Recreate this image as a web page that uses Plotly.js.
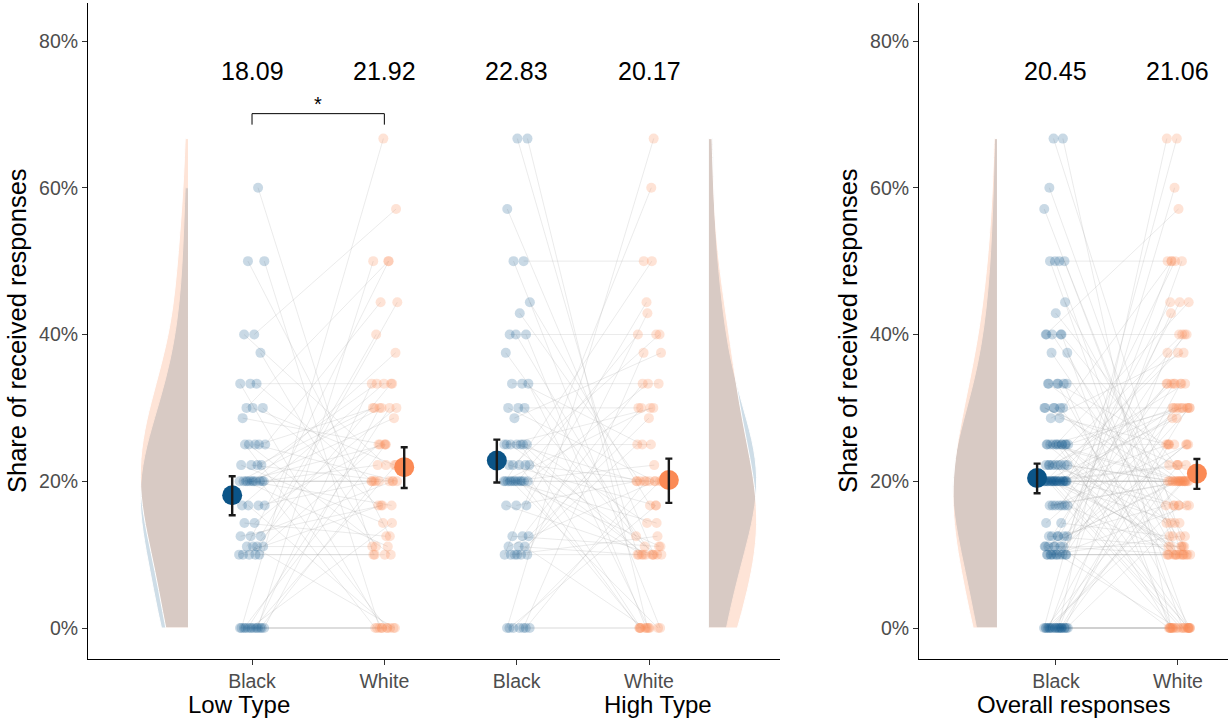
<!DOCTYPE html>
<html>
<head>
<meta charset="utf-8">
<script src="https://cdn.plot.ly/plotly-3.0.1.min.js"></script>
<style>
  html, body { margin: 0; padding: 0; background: #fff; }
  #chart { width: 1231px; height: 721px; }
</style>
</head>
<body>
<div id="chart"></div>
<script>
// Share of received responses (%) per participant, paired Black / White profiles
const groups = ['Black', 'White'];

const lowBlack = [60,50,50,40,40,37.5,33.3,33.3,33.3,30,30,30,28.6,25,25,25,25,25,22.2,22.2,22.2,22.2,20,20,20,20,20,20,20,20,20,20,20,16.7,16.7,16.7,16.7,14.3,14.3,12.5,12.5,12.5,11.1,11.1,11.1,11.1,10,10,10,10,10,0,0,0,0,0,0,0,0,0,0,0,0,0];
const lowWhite = [10,12.5,0,57.1,22.2,11.1,33.3,0,20,50,16.7,22.2,25,30,10,44.4,20,0,33.3,20,14.3,30,20,20,37.5,25,0,16.7,30,20,11.1,22.2,28.6,33.3,20,0,25,30,12.5,40,20,16.7,11.1,50,25,0,10,10,33.3,16.7,44.4,0,0,0,66.7,50,30,30,22.2,25,20,14.3,0,33.3];

const highBlack = [66.7,66.7,57.1,50,50,44.4,42.9,40,40,40,37.5,33.3,33.3,33.3,30,30,30,28.6,25,25,25,25,25,25,25,22.2,22.2,22.2,22.2,22.2,20,20,20,20,20,20,20,20,20,20,20,20,16.7,16.7,16.7,12.5,12.5,12.5,11.1,11.1,11.1,10,10,10,10,10,10,0,0,0,0,0,0,0];
const highWhite = [0,10,10,50,0,16.7,20,40,0,12.5,10,25,33.3,0,30,20,11.1,37.5,25,0,10,14.3,20,30,10,40,20,0,16.7,10,20,50,10,0,33.3,40,22.2,20,11.1,30,0,14.3,44.4,20,10,33.3,11.1,28.6,10,20,0,10,60,30,12.5,42.9,25,66.7,37.5,20,0,0,16.7,20];

// group means and 95% intervals (Black, White)
const lowMeans = [18.09, 21.92];
const lowCiLow = [15.37, 19.09];
const lowCiHigh = [20.68, 24.63];
const highMeans = [22.83, 20.17];
const highCiLow = [19.82, 17.05];
const highCiHigh = [25.67, 23.09];
const overallMeans = [20.45, 21.06];
const overallCiLow = [18.37, 18.96];
const overallCiHigh = [22.40, 23.04];

const yTicks = [0, 20, 40, 60, 80];
const yTickText = yTicks.map(v => v + '%');

const overallBlack = lowBlack.concat(highBlack);
const overallWhite = lowWhite.concat(highWhite);

const BLUE = '#0b5487';
const ORANGE = '#fb8a55';
const FONT = 'Liberation Sans, Arial, Helvetica, sans-serif';

// spread of the dots around each category position
function jitter(i, seed) {
  return (((i + 1) * 0.6180339887 + seed) % 1) * 0.2 - 0.1;
}

function pairedTraces(black, white, xb, xw, seedB, seedW, xa, ya) {
  const bx = black.map((v, i) => xb + jitter(i, seedB));
  const wx = white.map((v, i) => xw + jitter(i, seedW));
  const lx = [], ly = [];
  black.forEach((v, i) => {
    lx.push(bx[i], wx[i], null);
    ly.push(v, white[i], null);
  });
  const common = { xaxis: xa, yaxis: ya, hoverinfo: 'skip', showlegend: false, cliponaxis: false };
  return [
    Object.assign({ type: 'scatter', mode: 'lines', x: lx, y: ly, connectgaps: false,
      line: { color: 'rgba(165,165,165,0.22)', width: 1 } }, common),
    Object.assign({ type: 'scatter', mode: 'markers', x: bx, y: black,
      marker: { color: BLUE, opacity: 0.22, size: 10 } }, common),
    Object.assign({ type: 'scatter', mode: 'markers', x: wx, y: white,
      marker: { color: ORANGE, opacity: 0.24, size: 10 } }, common)
  ];
}

// one-sided density of a column, smoothed with a fixed kernel width
function halfViolin(vals, fill, x0, side, xa, ya, group) {
  return {
    type: 'violin', y: vals, x0: x0, name: group + fill, side: side, width: 0.72,
    bandwidth: 8, scalegroup: group, scalemode: 'count', spanmode: 'hard',
    fillcolor: fill, line: { color: '#ffffff', width: 1 },
    points: false, box: { visible: false }, meanline: { visible: false },
    xaxis: xa, yaxis: ya, hoverinfo: 'skip', showlegend: false
  };
}

function meanTraces(means, lo, hi, xs, xa, ya) {
  return [
    { type: 'scatter', mode: 'markers', x: xs, y: means, xaxis: xa, yaxis: ya,
      marker: { color: [BLUE, ORANGE], size: 20, opacity: 1 }, hoverinfo: 'skip', showlegend: false },
    { type: 'scatter', mode: 'markers', x: xs, y: means, xaxis: xa, yaxis: ya,
      marker: { size: 2, opacity: 0 }, hoverinfo: 'skip', showlegend: false,
      error_y: { type: 'data', symmetric: false,
        array: hi.map((h, i) => h - means[i]),
        arrayminus: lo.map((l, i) => means[i] - l),
        color: '#1a1a1a', thickness: 2.4, width: 3.5 } }
  ];
}

const BLUE_FILL = 'rgba(11,84,135,0.2)';
const ORANGE_FILL = 'rgba(252,141,89,0.24)';

const traces = [
  halfViolin(lowBlack, BLUE_FILL, 0.516, 'negative', 'x', 'y', 'low'),
  halfViolin(lowWhite, ORANGE_FILL, 0.516, 'negative', 'x', 'y', 'low'),
  halfViolin(highBlack, BLUE_FILL, 4.453, 'positive', 'x', 'y', 'high'),
  halfViolin(highWhite, ORANGE_FILL, 4.453, 'positive', 'x', 'y', 'high'),
  halfViolin(overallBlack, BLUE_FILL, 0.516, 'negative', 'x2', 'y2', 'all'),
  halfViolin(overallWhite, ORANGE_FILL, 0.516, 'negative', 'x2', 'y2', 'all')
]
  .concat(pairedTraces(lowBlack, lowWhite, 1, 2, 0.11, 0.47, 'x', 'y'))
  .concat(pairedTraces(highBlack, highWhite, 3, 4, 0.29, 0.83, 'x', 'y'))
  .concat(pairedTraces(overallBlack, overallWhite, 1, 2, 0.61, 0.05, 'x2', 'y2'))
  .concat(meanTraces(lowMeans, lowCiLow, lowCiHigh, [0.85, 2.15], 'x', 'y'))
  .concat(meanTraces(highMeans, highCiLow, highCiHigh, [2.85, 4.15], 'x', 'y'))
  .concat(meanTraces(overallMeans, overallCiLow, overallCiHigh, [0.845, 2.155], 'x2', 'y2'));

// mean values written above each column
const LABEL_Y = 75.9;
const annotations = [];
function meanLabels(means, xs, xa, ya) {
  means.forEach((m, i) => annotations.push({
    x: xs[i], y: LABEL_Y, xref: xa, yref: ya, text: m.toFixed(2), showarrow: false,
    font: { family: FONT, size: 25, color: '#000' }, xanchor: 'center', yanchor: 'middle'
  }));
}
meanLabels(lowMeans, [1, 2], 'x', 'y');
meanLabels(highMeans, [3, 4], 'x', 'y');
meanLabels(overallMeans, [1, 2], 'x2', 'y2');

// significance marker between the two low-type columns
annotations.push({ x: 1.5, y: 70.1, xref: 'x', yref: 'y', text: '*', showarrow: false,
  font: { family: FONT, size: 20, color: '#000' }, xanchor: 'center', yanchor: 'bottom', yshift: -3 });

const titleFont = { family: FONT, size: 24, color: '#000' };
const yTitleFont = { family: FONT, size: 25.5, color: '#000' };
[
  { x: 17 / 1231, text: 'Share of received responses' },
  { x: 848 / 1231, text: 'Share of received responses' }
].forEach(t => annotations.push({ xref: 'paper', yref: 'paper', x: t.x, y: 0.5, text: t.text,
  textangle: -90, showarrow: false, font: yTitleFont, xanchor: 'center', yanchor: 'middle' }));
[
  { x: 239 / 1231, text: 'Low Type' },
  { x: 658 / 1231, text: 'High Type' },
  { x: 1073.5 / 1231, text: 'Overall responses' }
].forEach(t => annotations.push({ xref: 'paper', yref: 'paper', x: t.x, y: -45 / 656, text: t.text,
  showarrow: false, font: titleFont, xanchor: 'center', yanchor: 'middle' }));

const axisStyle = {
  showline: true, linecolor: '#000', linewidth: 1, ticks: 'outside', ticklen: 5,
  tickcolor: '#333', tickwidth: 1, showgrid: false, zeroline: false, fixedrange: true,
  tickfont: { family: FONT, size: 19.5, color: '#4d4d4d' }
};

const yAxisStyle = Object.assign({}, axisStyle, {
  domain: [0, 1], range: [-4.225, 85.18], tickvals: yTicks, ticktext: yTickText, type: 'linear'
});

const layout = {
  width: 1231, height: 721,
  margin: { l: 0, r: 0, t: 3, b: 62 },
  paper_bgcolor: '#fff', plot_bgcolor: '#fff',
  showlegend: false, violinmode: 'overlay',
  font: { family: FONT },
  xaxis: Object.assign({}, axisStyle, { domain: [88 / 1231, 780 / 1231], range: [-0.2396, 4.99],
    tickvals: [1, 2, 3, 4], ticktext: groups.concat(groups), anchor: 'y', type: 'linear' }),
  yaxis: Object.assign({}, yAxisStyle, { anchor: 'x' }),
  xaxis2: Object.assign({}, axisStyle, { domain: [919 / 1231, 1228 / 1231], range: [-0.123, 2.41],
    tickvals: [1, 2], ticktext: groups, anchor: 'y2', type: 'linear' }),
  yaxis2: Object.assign({}, yAxisStyle, { anchor: 'x2' }),
  shapes: [{ type: 'path', xref: 'x', yref: 'y', path: 'M 1,68.6 L 1,70.1 L 2,70.1 L 2,68.6',
    line: { color: '#000', width: 1 } }],
  annotations: annotations
};

Plotly.newPlot('chart', traces, layout, { displayModeBar: false, staticPlot: true });
</script>
</body>
</html>
